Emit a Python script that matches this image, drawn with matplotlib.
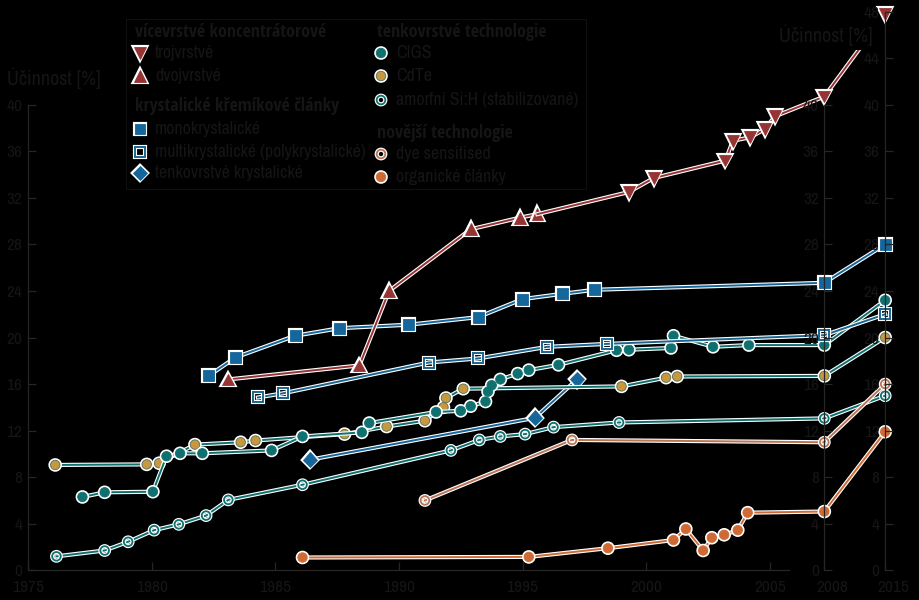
import numpy as np
import matplotlib
matplotlib.use("Agg")
import matplotlib.pyplot as plt
import matplotlib.patheffects as pe
from matplotlib.patches import Rectangle
from matplotlib.transforms import ScaledTranslation

plt.rcParams["font.family"] = ["Archivo Narrow", "Liberation Sans", "DejaVu Sans"]

# ── data (year, efficiency %) ────────────────────────────────────────────────
dual_x = [1983.1, 1988.4, 1989.6, 1992.9, 1994.9, 1995.6]
dual_y = [16.4, 17.6, 24.0, 29.3, 30.3, 30.6]

triple_x = [1999.3, 2000.3, 2003.2, 2003.5, 2004.2, 2004.8, 2005.2, 2008, 2015]
triple_y = [32.5, 33.7, 35.2, 36.9, 37.2, 37.9, 39.0, 40.7, 47.8]

mono_x = [1982.3, 1983.4, 1985.8, 1987.6, 1990.4, 1993.2, 1995.0, 1996.6, 1997.9, 2008, 2015]
mono_y = [16.7, 18.3, 20.15, 20.8, 21.1, 21.75, 23.3, 23.75, 24.1, 24.7, 28.0]

multi_x = [1984.3, 1985.3, 1991.2, 1993.2, 1996.0, 1998.4, 2008, 2015]
multi_y = [14.85, 15.2, 17.85, 18.2, 19.2, 19.45, 20.2, 22.0]

thinsi_x = [1986.4, 1995.5, 1997.2]
thinsi_y = [9.5, 13.1, 16.4]

cigs_x = [1977.2, 1978.1, 1980.05, 1980.6, 1981.15, 1982.05, 1984.85, 1986.1, 1988.5,
          1988.8, 1991.5, 1992.5, 1992.9, 1993.5, 1993.6, 1993.75, 1994.1, 1994.8,
          1995.25, 1996.45, 1998.8, 1999.3, 2001.0, 2001.1, 2002.7, 2004.15, 2008, 2015]
cigs_y = [6.3, 6.7, 6.75, 9.8, 10.05, 10.05, 10.3, 11.5, 11.85,
          12.65, 13.6, 13.7, 14.1, 14.5, 15.35, 15.9, 16.4, 16.9,
          17.2, 17.65, 18.9, 18.95, 19.1, 20.15, 19.2, 19.35, 19.35, 23.2]

cdte_x = [1976.1, 1979.8, 1980.3, 1981.75, 1983.6, 1984.2, 1987.8, 1989.5, 1991.05,
          1991.8, 1991.9, 1992.6, 1999.0, 2000.8, 2001.25, 2008, 2015]
cdte_y = [9.05, 9.1, 9.2, 10.8, 11.0, 11.15, 11.7, 12.35, 12.85,
          14.0, 14.8, 15.6, 15.8, 16.55, 16.65, 16.7, 20.0]

asi_x = [1976.15, 1978.1, 1979.05, 1980.1, 1981.1, 1982.2, 1983.1, 1986.1, 1992.1,
         1993.25, 1994.1, 1995.1, 1996.25, 1998.9, 2008, 2015]
asi_y = [1.2, 1.7, 2.45, 3.45, 3.95, 4.7, 6.05, 7.35, 10.3,
         11.2, 11.5, 11.7, 12.3, 12.7, 13.05, 15.0]

dye_x = [1991.05, 1997.0, 2008, 2015]
dye_y = [6.0, 11.2, 11.0, 16.0]

org_x = [1986.1, 1995.25, 1998.45, 2001.1, 2001.6, 2002.3, 2002.65, 2003.15, 2003.7, 2004.1, 2008, 2015]
org_y = [1.1, 1.15, 1.9, 2.6, 3.55, 1.7, 2.8, 3.05, 3.45, 4.95, 5.05, 11.9]

year_ticks = [1975, 1980, 1985, 1990, 1995, 2000, 2005, 2008, 2015]

# ── style ────────────────────────────────────────────────────────────────────
BG = "black"
TXT = "#151515"
SPN = "#262626"
RED = "#973333"
BLUE = "#15669a"
MBLUE = "#1a6590"
TEAL = "#0f7070"
GOLD = "#c8983f"
ORG = "#cf6a35"
DYE = "#bb7454"
FS = 12.5       # tick labels
FS_LEG = 12.8   # legend entries
FS_LAB = 14.5   # axis titles
BOLD_FAM = ["Open Sans Condensed", "Liberation Sans"]

HALO = [pe.Stroke(linewidth=3.0, foreground="white"), pe.Normal()]

# compressed x axis: 2008 and 2015 squeezed after 2006
BRK_IN = [1900, 2006, 2008, 2015, 2100]
BRK_OUT = [1900, 2006, 2007.2, 2009.66, 2094.66]
def fwd(x):
    return np.interp(x, BRK_IN, BRK_OUT)
def inv(x):
    return np.interp(x, BRK_OUT, BRK_IN)

fig = plt.figure(figsize=(9.2, 6.0), dpi=100, facecolor=BG)
ax = fig.add_axes([28 / 920, 29.7 / 600, 872 / 920, 520.3 / 600])
ax.set_facecolor("none")
ax.set_xscale("function", functions=(fwd, inv))
ax.set_xlim(1975, 2015.6)
ax.set_ylim(0, 44.7)

for s in ("top", "right"):
    ax.spines[s].set_visible(False)
for s in ("left", "bottom"):
    ax.spines[s].set_color(SPN)
    ax.spines[s].set_linewidth(0.9)
ax.spines["left"].set_bounds(0, 40)
ax.spines["bottom"].set_bounds(1975, 2005.77)
ax.set_yticks(range(0, 41, 4))
ax.set_xticks(year_ticks)
ax.set_xticklabels([str(y) for y in year_ticks])
ax.xaxis.set_minor_locator(matplotlib.ticker.NullLocator())
ax.tick_params(direction="in", length=6, width=0.9, color=SPN, labelcolor=TXT, labelsize=FS)
ax.tick_params(axis="x", pad=7)
ax.tick_params(axis="y", pad=4)
shift = ScaledTranslation(8 / 100, 0, fig.dpi_scale_trans)
for lab in ax.get_xticklabels()[-2:]:
    lab.set_transform(lab.get_transform() + shift)


def series(x, y, lc, marker, face, edge, ms, mew=0.6, lw=1.4, z=3):
    ax.plot(x, y, color=lc, lw=lw, marker=marker, ms=ms, mfc=face, mec=edge,
            mew=mew, path_effects=HALO, zorder=z)


series(asi_x, asi_y, TEAL, "o", "none", TEAL, 6.2, mew=1.3)
series(org_x, org_y, ORG, "o", ORG, ORG, 6.8)
series(dye_x, dye_y, DYE, "o", "none", DYE, 6.2, mew=1.3)
series(thinsi_x, thinsi_y, BLUE, "D", BLUE, BLUE, 7.5)
series(cdte_x, cdte_y, TEAL, "o", GOLD, "#4f6d5a", 6.8)
series(cigs_x, cigs_y, TEAL, "o", TEAL, TEAL, 6.8)
series(multi_x, multi_y, MBLUE, "s", "none", MBLUE, 7.2, mew=1.4)
series(mono_x, mono_y, BLUE, "s", BLUE, BLUE, 7.8)
series(dual_x, dual_y, RED, "^", RED, RED, 8.5)
# triple junction line continues from the last dual-junction point
ax.plot([dual_x[-1]] + triple_x, [dual_y[-1]] + triple_y, color=RED, lw=1.4,
        path_effects=HALO, zorder=3)
ax.plot(triple_x, triple_y, ls="none", marker="v", ms=8.5, mfc=RED, mec=RED, mew=0.6,
        path_effects=HALO, zorder=4, clip_on=False)

# ── side axes at 2008 and 2015 ───────────────────────────────────────────────
fig.canvas.draw()
inv_fig = fig.transFigure.inverted()
y0 = ax.get_position().y0
hpu = ax.get_position().height / 44.7
for year, top in ((2008, 40), (2015, 48)):
    xf = inv_fig.transform(ax.transData.transform((year, 0)))[0]
    sa = fig.add_axes([xf, y0, 0.0005, hpu * top])
    sa.set_facecolor("none")
    for s in ("top", "right", "bottom"):
        sa.spines[s].set_visible(False)
    sa.spines["left"].set_color(SPN)
    sa.spines["left"].set_linewidth(0.9)
    sa.set_ylim(0, top)
    sa.set_yticks(range(0, top + 1, 4))
    sa.set_xticks([])
    sa.tick_params(direction="in", length=6, width=0.9, color=SPN, labelcolor=TXT,
                   labelsize=FS, pad=4)
    sa.set_zorder(0)

# ── legend and axis labels (pixel coords overlay) ────────────────────────────
lg = fig.add_axes([0, 0, 1, 1])
lg.set_xlim(0, 920)
lg.set_ylim(600, 0)
lg.axis("off")
lg.set_zorder(5)

lg.add_patch(Rectangle((126, 19), 460, 170, fill=False, ec="#101010", lw=0.8))

lg.text(54, 78, "Účinnost [%]", color=TXT, fontsize=FS_LAB, ha="center", va="center")
lg.text(826, 35, "Účinnost [%]", color=TXT, fontsize=FS_LAB, ha="center", va="center")

headings = [(135, 32, "vícevrstvé koncentrátorové"),
            (135, 106, "krystalické křemíkové články"),
            (377, 32, "tenkovrstvé technologie"),
            (377, 133, "novější technologie")]
for hx, hy, t in headings:
    lg.text(hx, hy, t, color=TXT, fontsize=13, fontweight="bold", family=BOLD_FAM,
            va="center")

entries = [
    (140, 53, "trojvrstvé", "v", RED, RED, 8.5, 0.6),
    (140, 76, "dvojvrstvé", "^", RED, RED, 8.5, 0.6),
    (140, 129, "monokrystalické", "s", BLUE, BLUE, 7.8, 0.6),
    (140, 152, "multikrystalické (polykrystalické)", "s", "none", MBLUE, 7.2, 1.4),
    (140, 173, "tenkovrstvé krystalické", "D", BLUE, BLUE, 7.5, 0.6),
    (381, 53, "CIGS", "o", TEAL, TEAL, 6.8, 0.6),
    (381, 76, "CdTe", "o", GOLD, "#4f6d5a", 6.8, 0.6),
    (381, 100, "amorfní Si:H (stabilizované)", "o", "none", TEAL, 6.2, 1.3),
    (381, 154, "dye sensitised", "o", "none", DYE, 6.2, 1.3),
    (381, 177, "organické články", "o", ORG, ORG, 6.8, 0.6),
]
for mx, my, t, mk, fc, ec, ms, mew in entries:
    lg.plot([mx], [my], ls="none", marker=mk, ms=ms, mfc=fc, mec=ec, mew=mew,
            path_effects=HALO)
    lg.text(mx + 15, my, t, color=TXT, fontsize=FS_LEG, va="center")

fig.savefig("out.png", dpi=100, facecolor=BG)
